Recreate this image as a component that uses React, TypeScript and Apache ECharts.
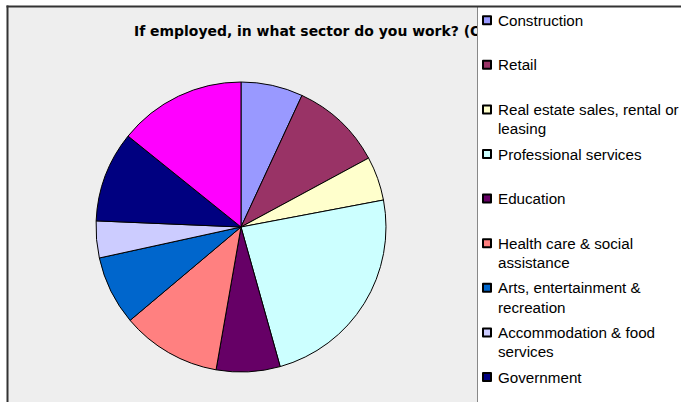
import React, { useEffect, useRef } from "react";
import * as echarts from "echarts";

const TITLE = "If employed, in what sector do you work? (O";

const categories = [
  "Construction",
  "Retail",
  "Real estate sales, rental or leasing",
  "Professional services",
  "Education",
  "Health care & social assistance",
  "Arts, entertainment & recreation",
  "Accommodation & food services",
  "Government",
  "Other",
];

const legendLines: string[][] = [
  ["Construction"],
  ["Retail"],
  ["Real estate sales, rental or", "leasing"],
  ["Professional services"],
  ["Education"],
  ["Health care & social", "assistance"],
  ["Arts, entertainment &", "recreation"],
  ["Accommodation & food", "services"],
  ["Government"],
];

const values = [6.9, 10.2, 4.9, 23.6, 7.1, 11.1, 7.7, 4.1, 10.1, 14.2];

const colors = [
  "#9999FF",
  "#993366",
  "#FFFFCC",
  "#CCFFFF",
  "#660066",
  "#FF8080",
  "#0066CC",
  "#CCCCFF",
  "#000080",
  "#FF00FF",
];

export default function App() {
  const ref = useRef<HTMLDivElement>(null);

  useEffect(() => {
    if (!ref.current) return;
    const chart = echarts.init(ref.current, undefined, { renderer: "svg" });
    const legendNames = categories.slice(0, legendLines.length);
    chart.setOption({
      animation: false,
      title: {
        text: TITLE,
        left: 134,
        top: 24,
        padding: 0,
        z: 6,
        textStyle: {
          fontFamily: "DejaVu Sans",
          fontWeight: "bold",
          fontSize: 13.95,
          lineHeight: 14,
          color: "#000",
        },
      },
      legend: {
        orient: "vertical",
        left: 482,
        top: -9.2,
        height: 900,
        padding: 0,
        itemWidth: 8,
        itemHeight: 8,
        itemGap: -14.2,
        icon: "rect",
        selectedMode: false,
        z: 20,
        data: legendNames,
        formatter: (name: string) => {
          const i = categories.indexOf(name);
          const l = legendLines[i];
          return "\n" + l[0] + "\n" + (l[1] ?? " ");
        },
        textStyle: {
          fontFamily: "Liberation Sans",
          fontSize: 15.2,
          lineHeight: 19.6,
          color: "#000",
          padding: [0, 0, 0, 2],
        },
      },
      graphic: [
        {
          type: "rect",
          z: -5,
          silent: true,
          shape: { x: 7, y: 6, width: 470, height: 400 },
          style: { fill: "#EEEEEE" },
        },
        {
          type: "rect",
          z: 10,
          silent: true,
          shape: { x: 477, y: 6, width: 210, height: 400 },
          style: { fill: "#FFFFFF" },
        },
        {
          type: "line",
          z: 11,
          silent: true,
          shape: { x1: 477.5, y1: 7, x2: 477.5, y2: 402 },
          style: { stroke: "#888888", lineWidth: 1 },
        },
        {
          type: "rect",
          z: 12,
          silent: true,
          shape: { x: 6.5, y: 5.5, width: 680, height: 2 },
          style: { fill: "#333333" },
        },
        {
          type: "rect",
          z: 12,
          silent: true,
          shape: { x: 6.5, y: 5.5, width: 2, height: 400 },
          style: { fill: "#333333" },
        },
      ],
      series: [
        {
          type: "pie",
          center: [241, 227],
          radius: 145,
          startAngle: 90,
          clockwise: true,
          label: { show: false },
          labelLine: { show: false },
          emphasis: { disabled: true },
          itemStyle: { borderColor: "#000", borderWidth: 1 },
          data: categories.map((name, i) => ({
            name,
            value: values[i],
            itemStyle: { color: colors[i] },
          })),
        },
      ],
    });
    return () => chart.dispose();
  }, []);

  return (
    <div
      ref={ref}
      style={{ position: "absolute", left: 0, top: 0, width: 681, height: 402 }}
    />
  );
}
